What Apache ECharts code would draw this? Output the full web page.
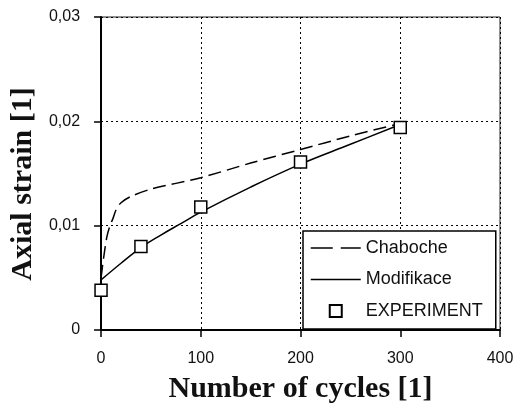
<!DOCTYPE html>
<html>
<head>
<meta charset="utf-8">
<script src="https://cdn.jsdelivr.net/npm/echarts@6/dist/echarts.min.js"></script>
<style>
  html, body { margin: 0; padding: 0; background: #fff; }
  #chart { width: 517px; height: 409px; }
</style>
</head>
<body>
<div id="chart"></div>
<script>
  // experiment points
  var expCycles = [0, 40, 100, 200, 300]
  var expStrain = [0.0038, 0.0080, 0.0118, 0.0161, 0.0194]

  // Chaboche model (dashed)
  var chabCycles = [0, 3, 6, 9, 12, 15, 20, 30, 50, 100, 150, 200, 250, 300]
  var chabStrain = [0.0050, 0.0072, 0.0090, 0.0100, 0.0107, 0.0115, 0.0122, 0.0128, 0.0135, 0.0146, 0.0160, 0.0173, 0.0186, 0.0198]

  // Modifikace model (solid)
  var modCycles = [0, 20, 40, 60, 80, 100, 150, 200, 250, 300]
  var modStrain = [0.0048, 0.0064, 0.0079, 0.0091, 0.0102, 0.0113, 0.0137, 0.0159, 0.0178, 0.0197]

  var xTicks = [0, 100, 200, 300, 400]
  var yTicks = [0, 0.01, 0.02, 0.03]

  function pairs (xs, ys) {
    return xs.map(function (x, i) { return [x, ys[i]] })
  }

  var chart = echarts.init(document.getElementById('chart'))
  chart.setOption({
    animation: false,
    backgroundColor: '#fff',
    grid: {
      left: 95,
      right: 17,
      top: 17,
      bottom: 72,
      show: true,
      borderColor: '#222',
      borderWidth: 1
    },
    legend: {
      orient: 'vertical',
      left: 303,
      top: 231,
      padding: [8, 13, 9, 7],
      itemGap: 13.5,
      itemWidth: 50,
      itemHeight: 12,
      backgroundColor: '#fff',
      borderColor: '#000',
      borderWidth: 1.5,
      textStyle: { fontFamily: 'Liberation Sans', fontSize: 18, color: '#111' },
      data: [
        // hide the default circle marker, keep only the line
        { name: 'Chaboche', itemStyle: { opacity: 0 }, lineStyle: { type: [22, 8], width: 1.5, color: '#000' } },
        { name: 'Modifikace', itemStyle: { opacity: 0 }, lineStyle: { width: 1.5, color: '#000' } },
        { name: 'EXPERIMENT', icon: 'path://M0,0L10,0L10,10L0,10Z' }
      ]
    },
    xAxis: {
      type: 'value',
      min: xTicks[0],
      max: xTicks[xTicks.length - 1],
      interval: 100,
      name: 'Number of cycles [1]',
      nameLocation: 'middle',
      nameGap: 44,
      nameTextStyle: { fontFamily: 'Liberation Serif', fontWeight: 'bold', fontSize: 30, color: '#111' },
      axisLine: { lineStyle: { color: '#000', width: 2 } },
      axisTick: { show: true, inside: false, length: 7, lineStyle: { color: '#000', width: 1.5 } },
      axisLabel: { margin: 21, fontFamily: 'Liberation Sans', fontSize: 16, color: '#111' },
      splitLine: { show: true, lineStyle: { color: '#000', width: 1, type: [2, 3] } }
    },
    yAxis: {
      type: 'value',
      min: yTicks[0],
      max: yTicks[yTicks.length - 1],
      interval: 0.01,
      name: 'Axial strain [1]',
      nameLocation: 'middle',
      nameGap: 56,
      nameTextStyle: { fontFamily: 'Liberation Serif', fontWeight: 'bold', fontSize: 30, color: '#111', padding: [0, 21, 0, 0] },
      axisLine: { lineStyle: { color: '#000', width: 2 } },
      axisTick: { show: true, inside: false, length: 7, lineStyle: { color: '#000', width: 1.5 } },
      axisLabel: {
        margin: 21,
        fontFamily: 'Liberation Sans',
        fontSize: 16,
        color: '#111',
        formatter: function (v) {
          return v === 0 ? '0' : v.toFixed(2).replace('.', ',')
        }
      },
      splitLine: { show: true, lineStyle: { color: '#000', width: 1, type: [2, 3] } }
    },
    series: [
      {
        name: 'Chaboche',
        type: 'line',
        data: pairs(chabCycles, chabStrain),
        smooth: 0.3,
        symbol: 'none',
        lineStyle: { color: '#000', width: 1.5, type: [13, 6] },
        itemStyle: { color: '#000' },
        z: 3
      },
      {
        name: 'Modifikace',
        type: 'line',
        data: pairs(modCycles, modStrain),
        smooth: 0.4,
        symbol: 'none',
        lineStyle: { color: '#000', width: 1.5 },
        itemStyle: { color: '#000' },
        z: 3
      },
      {
        name: 'EXPERIMENT',
        type: 'scatter',
        data: pairs(expCycles, expStrain),
        symbol: 'rect',
        symbolSize: 12,
        itemStyle: { color: '#fff', borderColor: '#000', borderWidth: 1.5, opacity: 1 },
        z: 4
      }
    ]
  })
</script>
</body>
</html>
